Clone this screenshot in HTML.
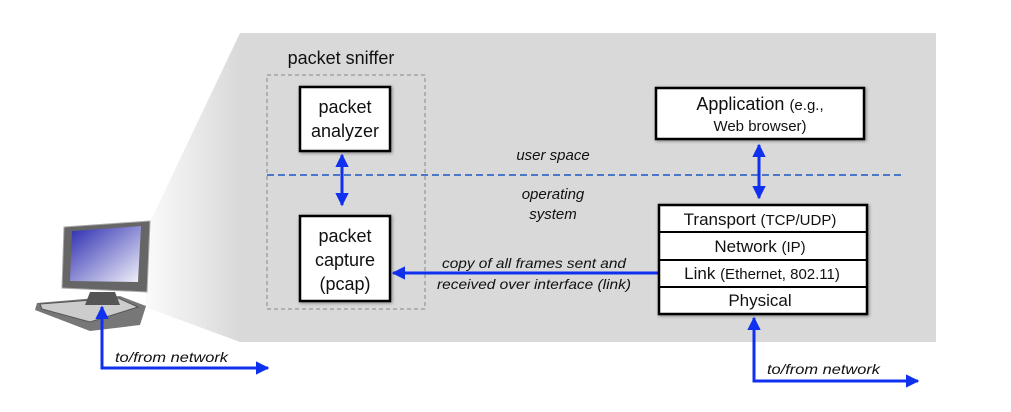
<!DOCTYPE html>
<html><head><meta charset="utf-8"><style>
html,body{margin:0;padding:0;background:#fff}
svg{display:block}
text{font-family:"Liberation Sans",sans-serif;fill:#111}
</style></head><body>
<svg width="1011" height="412" viewBox="0 0 1011 412" xmlns="http://www.w3.org/2000/svg">
<defs>
<linearGradient id="g" x1="145" y1="0" x2="240" y2="0" gradientUnits="userSpaceOnUse">
<stop offset="0" stop-color="#fbfbfb"/><stop offset="1" stop-color="#d9d9d9"/></linearGradient>
<linearGradient id="scr" x1="0" y1="0" x2="1" y2="1">
<stop offset="0" stop-color="#2a2ab0"/><stop offset="1" stop-color="#f2f2fa"/></linearGradient>
<marker id="a" viewBox="0 0 10 10" refX="9" refY="5" markerWidth="4.5" markerHeight="4.5" orient="auto-start-reverse"><path d="M0,0L10,5L0,10z" fill="#1030f0"/></marker>
<filter id="sh"><feDropShadow dx="1" dy="1" stdDeviation="1.5" flood-opacity="0.4"/></filter>
</defs>
<polygon points="150,222 240,33 240,342 145,307" fill="url(#g)"/>
<rect x="240" y="33" width="696" height="309" fill="#d9d9d9"/>
<!-- computer -->
<polygon points="37,303 120,296 146,306 140,325 90,331 35,310" fill="#777"/>
<polygon points="40,304 118,298 138,307 90,322 42,309" fill="#ccc" stroke="#555" stroke-width="1"/>
<polygon points="64,227 150,221 147,292 62,288" fill="#666" stroke="#aaa" stroke-width="1"/>
<polygon points="72,231 141,226 138,282 70,281" fill="url(#scr)"/>
<polygon points="90,292 115,292 120,305 85,305" fill="#555"/>
<!-- sniffer -->
<text x="341" y="64" font-size="18" text-anchor="middle">packet sniffer</text>
<rect x="267" y="75" width="158" height="234" fill="none" stroke="#888" stroke-dasharray="4,3"/>
<rect x="300" y="87" width="90" height="64" fill="#fff" stroke="#000" stroke-width="2.5" filter="url(#sh)"/>
<text x="345" y="113" font-size="18" text-anchor="middle">packet</text>
<text x="345" y="137" font-size="18" text-anchor="middle">analyzer</text>
<rect x="300" y="216" width="90" height="85" fill="#fff" stroke="#000" stroke-width="2.5" filter="url(#sh)"/>
<text x="345" y="242" font-size="18" text-anchor="middle">packet</text>
<text x="345" y="266" font-size="18" text-anchor="middle">capture</text>
<text x="345" y="290" font-size="18" text-anchor="middle">(pcap)</text>
<line x1="267" y1="175" x2="902" y2="175" stroke="#4a78c8" stroke-width="2" stroke-dasharray="7,4"/>
<line x1="342" y1="155" x2="342" y2="205" stroke="#1030f0" stroke-width="3" marker-start="url(#a)" marker-end="url(#a)"/>
<text x="553" y="160" font-size="15" font-style="italic" text-anchor="middle">user space</text>
<text x="553" y="199" font-size="15" font-style="italic" text-anchor="middle">operating</text>
<text x="553" y="219" font-size="15" font-style="italic" text-anchor="middle">system</text>
<line x1="659" y1="273" x2="393" y2="273" stroke="#1030f0" stroke-width="3" marker-end="url(#a)"/>
<text x="442" y="268" font-size="14" font-style="italic" textLength="184" lengthAdjust="spacingAndGlyphs">copy of all frames sent and</text>
<text x="437" y="289" font-size="14" font-style="italic" textLength="194" lengthAdjust="spacingAndGlyphs">received over interface (link)</text>
<!-- app -->
<rect x="656" y="88" width="208" height="51" fill="#fff" stroke="#000" stroke-width="2.5" filter="url(#sh)"/>
<text x="760" y="110" font-size="18" text-anchor="middle">Application <tspan font-size="15">(e.g.,</tspan></text>
<text x="760" y="131" font-size="15" text-anchor="middle">Web browser)</text>
<line x1="759" y1="145" x2="759" y2="198" stroke="#1030f0" stroke-width="3" marker-start="url(#a)" marker-end="url(#a)"/>
<!-- stack -->
<rect x="659" y="205" width="208" height="109" fill="#fff" stroke="#000" stroke-width="2.5" filter="url(#sh)"/>
<line x1="659" y1="232" x2="867" y2="232" stroke="#000" stroke-width="2"/>
<line x1="659" y1="260" x2="867" y2="260" stroke="#000" stroke-width="2"/>
<line x1="659" y1="287" x2="867" y2="287" stroke="#000" stroke-width="2"/>
<text x="760" y="225" font-size="17" text-anchor="middle">Transport <tspan font-size="15">(TCP/UDP)</tspan></text>
<text x="760" y="252" font-size="17" text-anchor="middle">Network <tspan font-size="15">(IP)</tspan></text>
<text x="762" y="279" font-size="17" text-anchor="middle">Link <tspan font-size="15">(Ethernet, 802.11)</tspan></text>
<text x="760" y="306" font-size="17" text-anchor="middle">Physical</text>
<!-- network arrows -->
<polyline points="754,318 754,381 918,381" fill="none" stroke="#1030f0" stroke-width="3" marker-start="url(#a)" marker-end="url(#a)"/>
<text x="767" y="374" font-size="14" font-style="italic" textLength="113" lengthAdjust="spacingAndGlyphs">to/from network</text>
<polyline points="102,307 102,368 268,368" fill="none" stroke="#1030f0" stroke-width="3" marker-start="url(#a)" marker-end="url(#a)"/>
<text x="115" y="362" font-size="14" font-style="italic" textLength="113" lengthAdjust="spacingAndGlyphs">to/from network</text>
</svg>
</body></html>
